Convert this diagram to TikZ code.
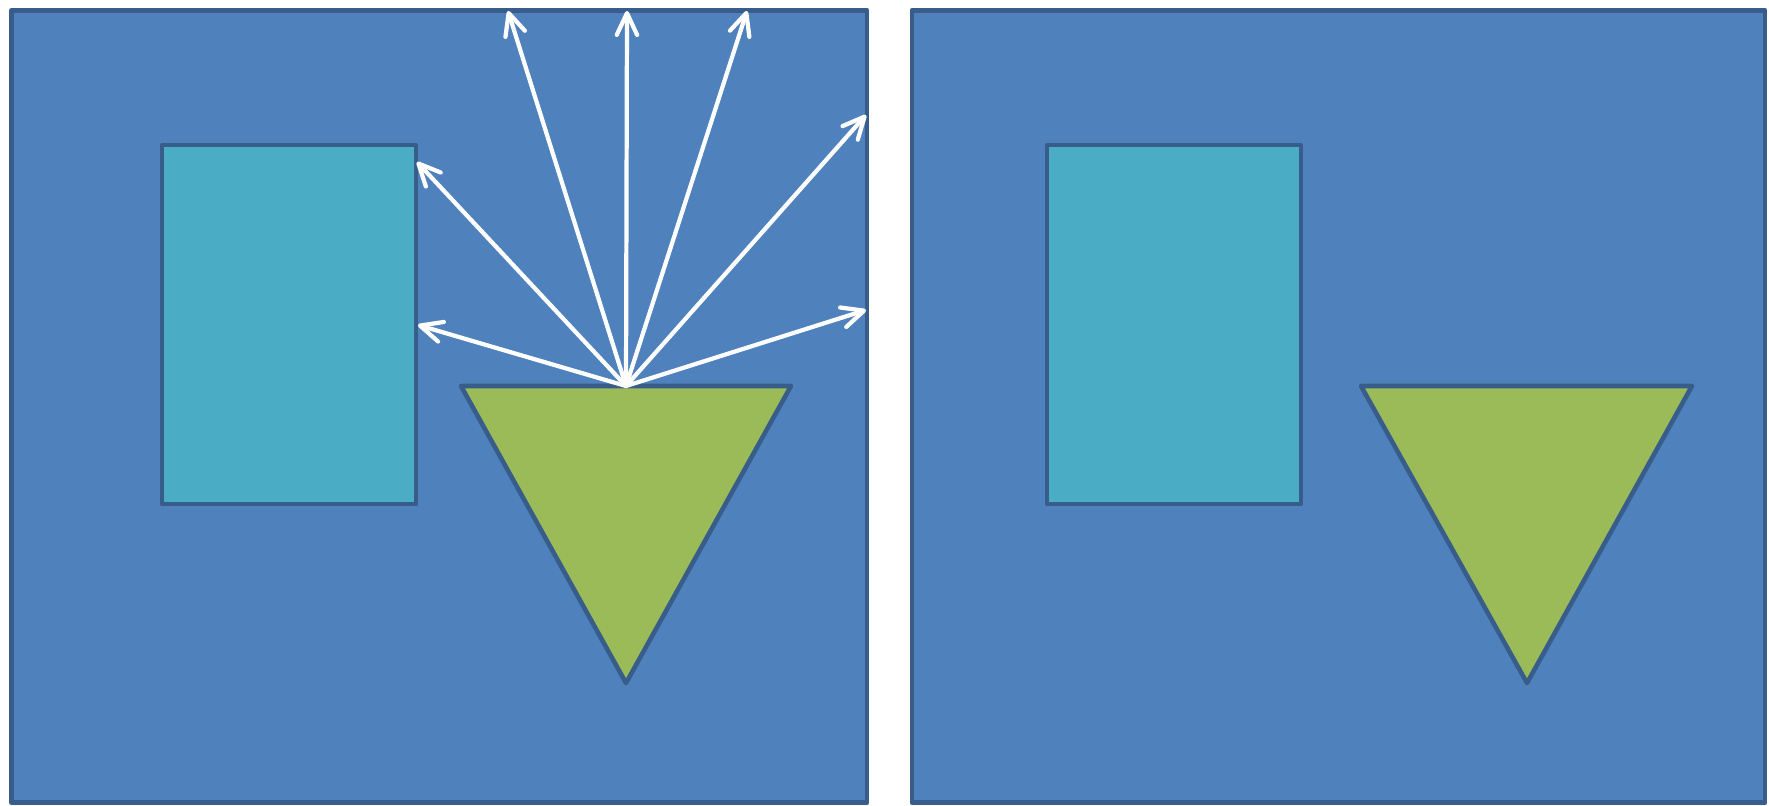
\documentclass[tikz,border=0pt]{standalone}
\usepackage{xcolor}
\definecolor{panelBlue}{HTML}{4F81BD}
\definecolor{edgeBlue}{HTML}{385D8A}
\definecolor{blockCyan}{HTML}{4BACC6}
\definecolor{coneGreen}{HTML}{9BBB59}
\usetikzlibrary{arrows.meta}

\begin{document}
\begin{tikzpicture}[
  x=0.01cm, y=-0.01cm,
  panel/.style={fill=panelBlue, draw=edgeBlue, line width=1.4pt, line join=round},
  block/.style={fill=blockCyan, draw=edgeBlue, line width=1.3pt, line join=round},
  cone/.style={fill=coneGreen, draw=edgeBlue, line width=1.3pt, line join=round},
  ray/.style={-{Straight Barb[length=6.2pt, width=5.8pt, round]}, white, line width=1.2pt, line cap=round}
]
  \useasboundingbox (0,0) rectangle (1769,805);

  % Panels
  \draw[panel] (11.5,10.5) rectangle (867,802.5);
  \draw[panel] (912,10.5) rectangle (1765,802.5);

  % Left scene
  \draw[block] (162,145) rectangle (416,504);
  \coordinate (srcL) at (626,386);
  \draw[cone] (461,386) -- (791,386) -- (626,683) -- cycle;

  % Right scene
  \draw[block] (1047,145) rectangle (1301,504);
  \draw[cone] (1361,386) -- (1692,386) -- (1527,683) -- cycle;

  % Rays
  \coordinate (tipA) at (418,325);
  \coordinate (tipB) at (417,162);
  \coordinate (tipC) at (508,11);
  \coordinate (tipD) at (627,11);
  \coordinate (tipE) at (747,11);
  \coordinate (tipF) at (866,115);
  \coordinate (tipG) at (866,310);
  \foreach \t in {A,B,C,D,E,F,G}
    \draw[ray] (srcL) -- (tip\t);
\end{tikzpicture}
\end{document}
